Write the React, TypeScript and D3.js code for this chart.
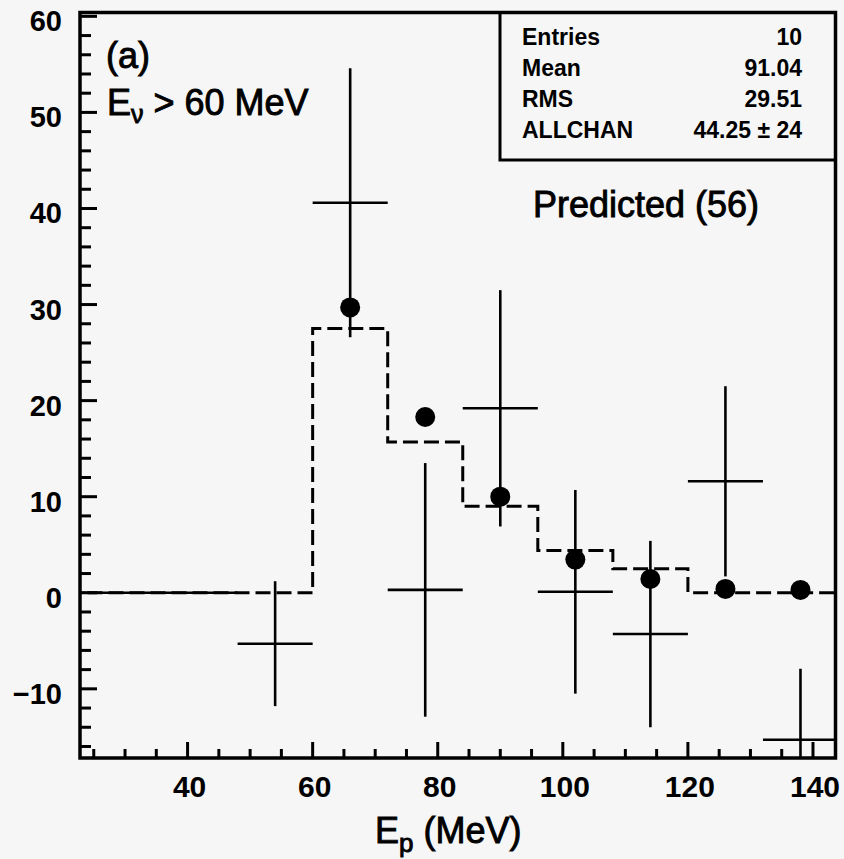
import React from "react";
import * as d3 from "d3";

// ---- data ----
const binCenters = [30, 42, 54, 66, 78, 90, 102, 114, 126, 138];
const binWidth = 12;
const measured = [0, 0, -5.3, 40.6, 0.3, 19.2, 0.1, -4.3, 11.6, -15.3];
const measuredErr = [0, 0, 6.5, 14.0, 13.2, 12.3, 10.6, 9.7, 9.9, 7.4];
const predicted = [0, 0, 0, 27.5, 15.7, 9.0, 4.4, 2.5, 0, 0];
const dotValues: (number | null)[] = [null, null, null, 29.7, 18.3, 10.0, 3.45, 1.43, 0.4, 0.3];
const xTickLabels = [40, 60, 80, 100, 120, 140];
const yTickLabels = [-10, 0, 10, 20, 30, 40, 50, 60];
const statNames = ["Entries", "Mean", "RMS", "ALLCHAN"];
const statValues = ["10", "91.04", "29.51", "44.25 ± 24"];

const W = 844;
const H = 859;
const L = 80, R = 835.5, T = 12.5, B = 758;
const FONT = "'Liberation Sans', Arial, Helvetica, sans-serif";

export default function App() {
  const x = d3.scaleLinear().domain([22.8, 143.6]).range([L, R]);
  const y = d3.scaleLinear().domain([-17.2, 60.4]).range([B, T]);

  const xMinor = d3.range(25, 144, 5);
  const yMinor = d3.range(-16, 61, 2);

  const histPts: [number, number][] = [];
  binCenters.forEach((c, i) => {
    histPts.push([c - binWidth / 2, predicted[i]]);
    histPts.push([c + binWidth / 2, predicted[i]]);
  });
  const histLine = d3
    .line<[number, number]>()
    .x((d) => x(d[0]))
    .y((d) => y(d[1]));

  const thick = { stroke: "#000", strokeWidth: 0.9 };

  return (
    <svg
      width={W}
      height={H}
      style={{ position: "absolute", left: 0, top: 0, background: "#f6f6f6" }}
      fontFamily={FONT}
    >
      <defs>
        <clipPath id="plotClip">
          <rect x={L} y={T} width={R - L} height={B - T} />
        </clipPath>
      </defs>
      <rect x={0} y={0} width={W} height={H} fill="#f6f6f6" />

      <g clipPath="url(#plotClip)">
        <line x1={x(22.8)} x2={x(24)} y1={y(0)} y2={y(0)} stroke="#000" strokeWidth={2.5} />
        <path
          d={histLine(histPts) || ""}
          fill="none"
          stroke="#000"
          strokeWidth={3}
          strokeDasharray="15 6"
        />
        {binCenters.map((c, i) => (
          <g key={"c" + i}>
            <line
              x1={x(c - binWidth / 2)}
              x2={x(c + binWidth / 2)}
              y1={y(measured[i])}
              y2={y(measured[i])}
              stroke="#000"
              strokeWidth={2.6}
            />
            {measuredErr[i] > 0 && (
              <line
                x1={x(c)}
                x2={x(c)}
                y1={y(measured[i] - measuredErr[i])}
                y2={y(measured[i] + measuredErr[i])}
                stroke="#000"
                strokeWidth={2.6}
              />
            )}
          </g>
        ))}
        {binCenters.map((c, i) =>
          dotValues[i] === null ? null : (
            <circle key={"d" + i} cx={x(c)} cy={y(dotValues[i] as number)} r={10} fill="#000" />
          )
        )}
      </g>

      {/* stat box */}
      <rect x={500} y={T} width={R - 500} height={160 - T} fill="none" stroke="#000" strokeWidth={3} />
      {statNames.map((n, i) => (
        <g key={"s" + i} fontSize={23} fontWeight="bold" fill="#000">
          <text x={522} y={45 + i * 31}>{n}</text>
          <text x={802} y={45 + i * 31} textAnchor="end">{statValues[i]}</text>
        </g>
      ))}

      {/* frame */}
      <rect x={L} y={T} width={R - L} height={B - T} fill="none" stroke="#000" strokeWidth={3.5} />

      {yMinor.map((v) => {
        const major = v % 10 === 0;
        return (
          <line
            key={"ym" + v}
            x1={L}
            x2={L + (major ? 17 : 11)}
            y1={y(v)}
            y2={y(v)}
            stroke="#000"
            strokeWidth={3}
          />
        );
      })}
      {yTickLabels.map((v) => (
        <text
          key={"yl" + v}
          x={62}
          y={y(v) + 15}
          textAnchor="end"
          fontSize={29}
          fontWeight="bold"
        >
          {v < 0 ? "\u2212" + Math.abs(v) : v}
        </text>
      ))}

      {xMinor.map((v) => {
        const major = v % 20 === 0;
        return (
          <line
            key={"xm" + v}
            x1={x(v)}
            x2={x(v)}
            y1={B}
            y2={B - (major ? 16 : 9)}
            stroke="#000"
            strokeWidth={3}
          />
        );
      })}
      {xTickLabels.map((v) => (
        <text
          key={"xl" + v}
          x={x(v) + 2}
          y={797}
          textAnchor="middle"
          fontSize={30}
          fontWeight="bold"
        >
          {v}
        </text>
      ))}

      <text x={106} y={68} fontSize={36} {...thick}>(a)</text>
      <text x={107} y={115} fontSize={36} {...thick}>
        E<tspan fontSize={25} dy={8}>ν</tspan>
        <tspan dy={-8}> &gt; 60 MeV</tspan>
      </text>
      <text x={533} y={217} fontSize={36} {...thick}>Predicted (56)</text>
      <text x={375} y={843} fontSize={36} {...thick}>
        E<tspan fontSize={26} dy={9}>p</tspan>
        <tspan dy={-9}> (MeV)</tspan>
      </text>
    </svg>
  );
}
